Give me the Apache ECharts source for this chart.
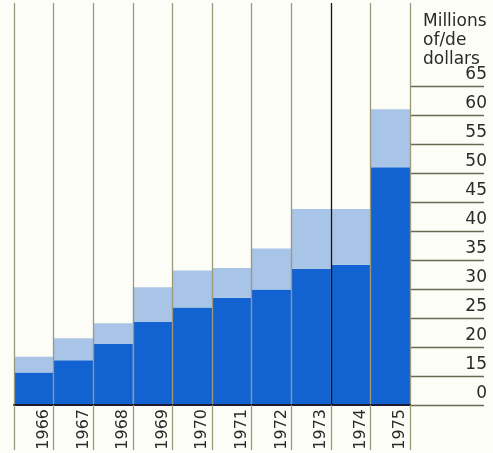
<!DOCTYPE html>
<html>
<head>
<meta charset="utf-8">
<script src="https://cdn.jsdelivr.net/npm/echarts@6/dist/echarts.min.js"></script>
<style>
html,body{margin:0;padding:0;background:#fdfdf8;}
#c{width:493px;height:453px;}
</style>
</head>
<body>
<div id="c"></div>
<script>
// Data (millions of dollars)
var years = ['1966','1967','1968','1969','1970','1971','1972','1973','1974','1975'];
var lowerValues = [15.6, 17.7, 20.5, 24.3, 26.8, 28.5, 29.9, 33.5, 34.2, 51.0];
var totalValues = [18.3, 21.5, 24.1, 30.3, 33.2, 33.6, 37.0, 43.8, 43.8, 61.0];
var tickLabels = ['0','15','20','25','30','35','40','45','50','55','60','65'];

// Broken axis: 0..15 is compressed into one 5-unit step
function t(v){ return v <= 15 ? v / 3 : v - 10; }
var lowerPlot = lowerValues.map(t);
var upperPlot = totalValues.map(function(v, i){ return t(v) - t(lowerValues[i]); });

var H = 453, top1 = 3, base = 405, top2 = 86;
var axisMax2 = 55;
var axisMax1 = axisMax2 * (base - top1) / (base - top2);

var lineCol = '#9a9a7a';
var splitColors = [];
for (var i = 0; i <= years.length; i++) splitColors.push(i === 8 ? '#111111' : lineCol);

var chart = echarts.init(document.getElementById('c'), null, {renderer: 'canvas'});
chart.setOption({
  backgroundColor: '#fdfdf8',
  animation: false,
  title: {
    text: 'Millions\nof/de\ndollars',
    left: 418, top: 7,
    textStyle: {fontFamily: 'DejaVu Sans', fontSize: 17, fontWeight: 'normal', color: '#2a2a2a', lineHeight: 19}
  },
  grid: [
    {left: 14, right: 83, top: top1, bottom: H - base},
    {left: 410, right: 9, top: top2, bottom: H - base}
  ],
  xAxis: [
    {
      gridIndex: 0, type: 'category', data: years, z: 3,
      axisLine: {show: true, lineStyle: {color: '#1a1a30', width: 2}},
      axisTick: {show: true, length: 45, lineStyle: {color: lineCol, width: 1.3}},
      splitLine: {show: true, lineStyle: {color: splitColors, width: 1.3}},
      axisLabel: {rotate: 90, margin: 4, fontFamily: 'DejaVu Sans', fontSize: 16, color: '#2a2a2a', verticalAlign: 'top', padding: [2,0,0,0]}
    },
    {gridIndex: 1, type: 'value', show: false}
  ],
  yAxis: [
    {gridIndex: 0, type: 'value', min: 0, max: axisMax1, show: false, splitLine: {show: false}},
    {
      gridIndex: 1, type: 'value', min: 0, max: axisMax2, interval: 5, position: 'right',
      axisLine: {show: false}, axisTick: {show: false},
      splitLine: {show: true, lineStyle: {color: '#6a6a4e', width: 1.3}},
      axisLabel: {
        inside: true, margin: -3, fontFamily: 'DejaVu Sans', fontSize: 17, color: '#2a2a2a',
        verticalAlign: 'bottom', padding: [0,0,3,0],
        formatter: function(v){ return tickLabels[Math.round(v / 5)]; }
      }
    }
  ],
  series: [
    {type: 'bar', xAxisIndex: 0, yAxisIndex: 0, stack: 's', data: lowerPlot, barWidth: '100%', barGap: '0%',
     itemStyle: {color: '#1262d2'}},
    {type: 'bar', xAxisIndex: 0, yAxisIndex: 0, stack: 's', data: upperPlot, barWidth: '100%', barGap: '0%',
     itemStyle: {color: '#a8c4e6'}}
  ]
});
</script>
</body>
</html>
